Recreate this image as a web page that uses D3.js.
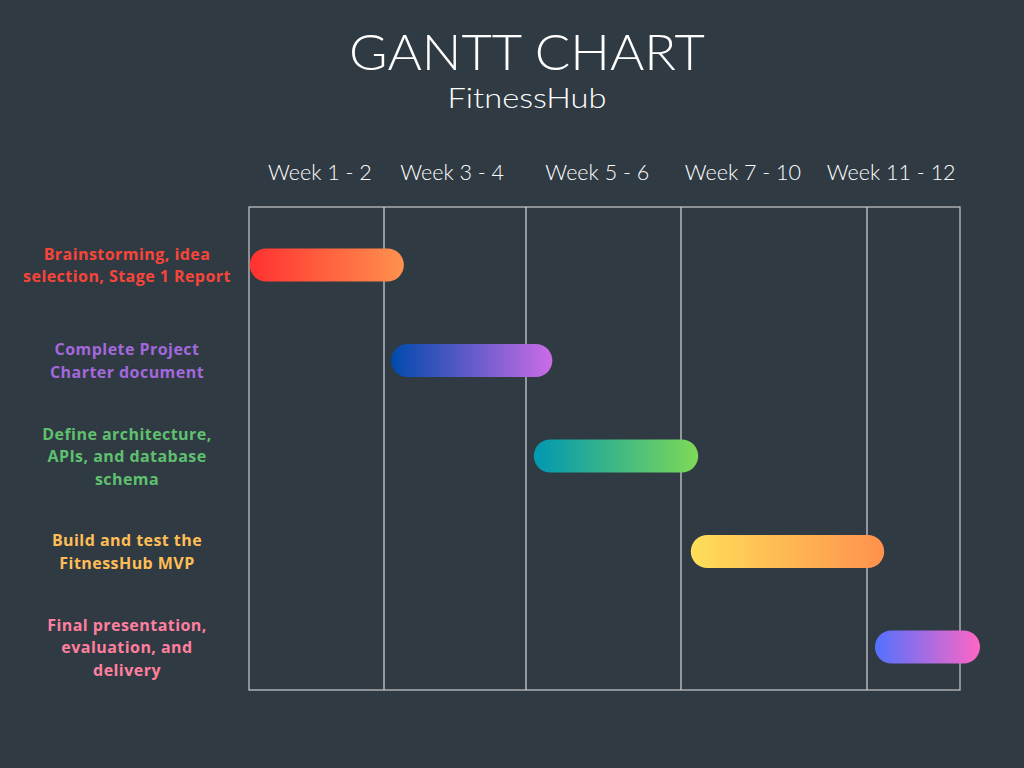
<!DOCTYPE html>
<html>
<head>
<meta charset="utf-8">
<script src="https://cdn.jsdelivr.net/npm/d3@7"></script>
<style>
  html, body { margin: 0; padding: 0; background: #303a43; }
  svg { display: block; }
</style>
</head>
<body>
<svg id="chart" width="1024" height="768"></svg>
<script>
// ---- data ----
const title = "GANTT CHART";
const subtitle = "FitnessHub";
const periodLabels = ["Week 1 - 2", "Week 3 - 4", "Week 5 - 6", "Week 7 - 10", "Week 11 - 12"];
const periodBounds = [0, 2, 4, 6, 10, 12];           // week boundaries of the columns
const periodLabelAt = [1.05, 2.96, 4.92, 7.33, 10.52]; // week position of each header label
const tasks = [
  ["Brainstorming, idea", "selection, Stage 1 Report"],
  ["Complete Project", "Charter document"],
  ["Define architecture,", "APIs, and database", "schema"],
  ["Build and test the", "FitnessHub MVP"],
  ["Final presentation,", "evaluation, and", "delivery"]
];
const taskStart = [0.01, 2.10, 4.10, 6.21, 10.17]; // weeks
const taskEnd   = [2.28, 4.34, 6.37, 10.37, 12.43]; // weeks
const labelColors = ["#f8453a", "#a368dc", "#5fc070", "#ffbe55", "#ff7f9e"];
const gradFrom = ["#ff3131", "#004aad", "#0097b2", "#ffde59", "#5271ff"];
const gradTo   = ["#ff914d", "#cb6ce6", "#7ed957", "#ff914d", "#ff66c4"];

// ---- layout ----
const svg = d3.select("#chart");
const plot = { left: 249, right: 960, top: 207, bottom: 690 };
const x = d3.scaleLinear().domain(periodBounds)
  .range([249, 384, 526, 681, 867, 960]);
const rowIds = d3.range(tasks.length);
const y = d3.scalePoint().domain(rowIds).range([plot.top + 58, plot.bottom - 43]);
const barH = 33;

// title
svg.append("text").attr("x", 527).attr("y", 70)
  .attr("text-anchor", "middle").attr("fill", "#ffffff")
  .style("font-family", "Lato, 'Open Sans', sans-serif").style("font-weight", 300)
  .style("font-size", "50px")
  .attr("textLength", 356).attr("lengthAdjust", "spacingAndGlyphs")
  .text(title);
svg.append("text").attr("x", 527).attr("y", 108)
  .attr("text-anchor", "middle").attr("fill", "#ffffff")
  .style("font-family", "Lato, 'Open Sans', sans-serif").style("font-weight", 300)
  .style("font-size", "28px")
  .attr("textLength", 159).attr("lengthAdjust", "spacingAndGlyphs")
  .text(subtitle);

// header labels
svg.append("g").selectAll("text").data(periodLabels).join("text")
  .attr("x", (d, i) => x(periodLabelAt[i]))
  .attr("y", 180)
  .attr("text-anchor", "middle").attr("fill", "#ffffff")
  .style("font-family", "Lato, sans-serif").style("font-weight", 300)
  .style("font-size", "21.5px")
  .text(d => d);

// grid
const grid = svg.append("g");
grid.append("rect")
  .attr("x", plot.left).attr("y", plot.top)
  .attr("width", plot.right - plot.left).attr("height", plot.bottom - plot.top)
  .attr("fill", "none").attr("stroke", "#c9cbcd").attr("stroke-width", 1.2);
grid.selectAll("line").data(periodBounds.slice(1, -1)).join("line")
  .attr("x1", d => x(d)).attr("x2", d => x(d))
  .attr("y1", plot.top).attr("y2", plot.bottom)
  .attr("stroke", "#d6d8da").attr("stroke-width", 1.2);

// gradients
const defs = svg.append("defs");
rowIds.forEach(i => {
  const g = defs.append("linearGradient").attr("id", "grad" + i)
    .attr("x1", "0%").attr("x2", "100%").attr("y1", "0%").attr("y2", "0%");
  g.append("stop").attr("offset", "0%").attr("stop-color", gradFrom[i]);
  g.append("stop").attr("offset", "100%").attr("stop-color", gradTo[i]);
});

// bars
svg.append("g").selectAll("rect").data(rowIds).join("rect")
  .attr("x", i => x(taskStart[i]))
  .attr("width", i => x(taskEnd[i]) - x(taskStart[i]))
  .attr("y", i => y(i) - barH / 2)
  .attr("height", barH)
  .attr("rx", barH / 2).attr("ry", barH / 2)
  .attr("fill", i => `url(#grad${i})`);

// task labels
const lineH = 22.5;
const lab = svg.append("g").selectAll("text").data(rowIds).join("text")
  .attr("text-anchor", "middle")
  .attr("fill", i => labelColors[i])
  .style("font-family", "'Open Sans', sans-serif").style("font-weight", 700)
  .style("font-size", "16px")
  .style("letter-spacing", "0.45px");
lab.each(function(i) {
  const lines = tasks[i];
  const t = d3.select(this);
  const y0 = y(i) - (lines.length - 1) * lineH / 2 + 6;
  lines.forEach((ln, k) => {
    t.append("tspan").attr("x", 127).attr("y", y0 + k * lineH).text(ln);
  });
});
</script>
</body>
</html>
